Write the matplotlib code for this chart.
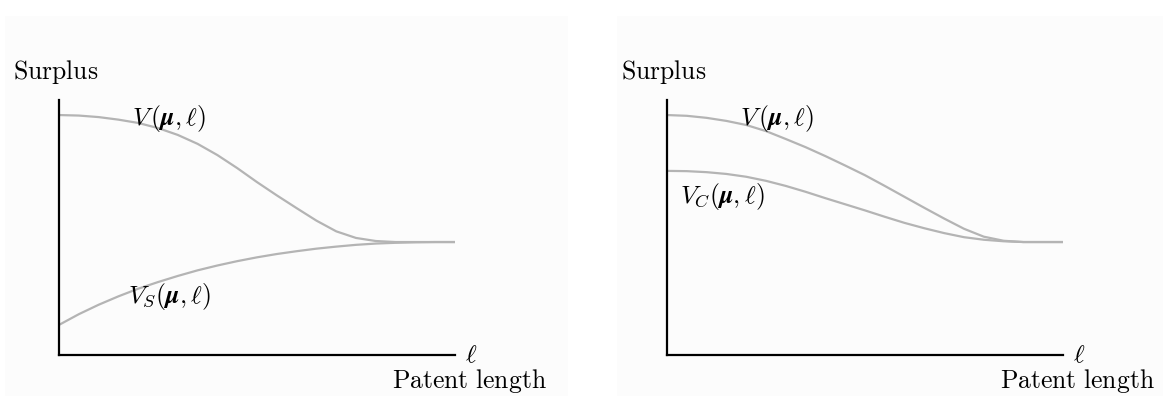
import matplotlib
matplotlib.use('Agg')
import matplotlib.pyplot as plt
from matplotlib.patches import Rectangle

plt.rcParams['mathtext.fontset'] = 'cm'

# patent length, scaled 0..1
ell = [0.00, 0.05, 0.10, 0.15, 0.20, 0.25, 0.30, 0.35, 0.40, 0.45, 0.50,
       0.55, 0.60, 0.65, 0.70, 0.75, 0.80, 0.85, 0.90, 0.95, 1.00]

# left panel: total surplus V and surplus V_S
v_left = [0.941, 0.939, 0.933, 0.923, 0.910, 0.890, 0.863, 0.828, 0.784, 0.733, 0.678,
          0.626, 0.576, 0.527, 0.485, 0.459, 0.447, 0.443, 0.443, 0.443, 0.443]
vs_left = [0.118, 0.160, 0.197, 0.230, 0.260, 0.286, 0.310, 0.332, 0.351, 0.368, 0.383,
           0.396, 0.407, 0.417, 0.425, 0.432, 0.437, 0.440, 0.442, 0.443, 0.443]

# right panel: V and V_C
v_right = [0.941, 0.938, 0.930, 0.918, 0.902, 0.878, 0.847, 0.815, 0.780, 0.743, 0.705,
           0.663, 0.620, 0.577, 0.535, 0.495, 0.464, 0.448, 0.443, 0.443, 0.443]
vc_right = [0.722, 0.721, 0.717, 0.710, 0.699, 0.683, 0.663, 0.640, 0.615, 0.591, 0.567,
            0.542, 0.518, 0.497, 0.478, 0.462, 0.452, 0.446, 0.443, 0.443, 0.443]

W, H = 1163, 396
fig = plt.figure(figsize=(W / 100, H / 100), dpi=100)
fig.patch.set_facecolor('white')

def fx(px):
    return px / W

def fy(py):
    return 1 - py / H

# light panel backgrounds
for x0, x1 in [(5, 568), (617, 1163)]:
    fig.patches.append(Rectangle((fx(x0), 0), fx(x1 - x0), fy(16), transform=fig.transFigure,
                                 facecolor='#fcfcfc', edgecolor='none', zorder=-5))

curve_color = '#b4b4b4'
fs = 18.5

def make_panel(x_axis):
    ax = fig.add_axes([fx(x_axis), fy(355), fx(396), (355 - 100) / H])
    ax.set_xlim(0, 1)
    ax.set_ylim(0, 1)
    ax.patch.set_alpha(0)
    for s in ['top', 'right']:
        ax.spines[s].set_visible(False)
    for s in ['left', 'bottom']:
        ax.spines[s].set_linewidth(1.6)
        ax.spines[s].set_color('black')
    ax.set_xticks([])
    ax.set_yticks([])
    fig.text(fx(x_axis - 46), fy(79), r'$\mathrm{Surplus}$', fontsize=fs, va='baseline', ha='left')
    fig.text(fx(x_axis + 406), fy(355), r'$\ell$', fontsize=fs, va='center', ha='left')
    fig.text(fx(x_axis + 488), fy(388), r'$\mathrm{Patent\ length}$', fontsize=fs,
             va='baseline', ha='right')
    return ax

ax1 = make_panel(59)
ax1.plot(ell, v_left, color=curve_color, lw=1.6)
ax1.plot(ell, vs_left, color=curve_color, lw=1.6)
fig.text(fx(132), fy(118), r'$V\,(\boldsymbol{\mu},\ell)$', fontsize=fs, va='center', ha='left')
fig.text(fx(128), fy(297), r'$V_S(\boldsymbol{\mu},\ell)$', fontsize=fs, va='center', ha='left')

ax2 = make_panel(667)
ax2.plot(ell, v_right, color=curve_color, lw=1.6)
ax2.plot(ell, vc_right, color=curve_color, lw=1.6)
fig.text(fx(740), fy(118), r'$V\,(\boldsymbol{\mu},\ell)$', fontsize=fs, va='center', ha='left')
fig.text(fx(680), fy(196), r'$V_C(\boldsymbol{\mu},\ell)$', fontsize=fs, va='center', ha='left')

fig.savefig('out.png', dpi=100)
